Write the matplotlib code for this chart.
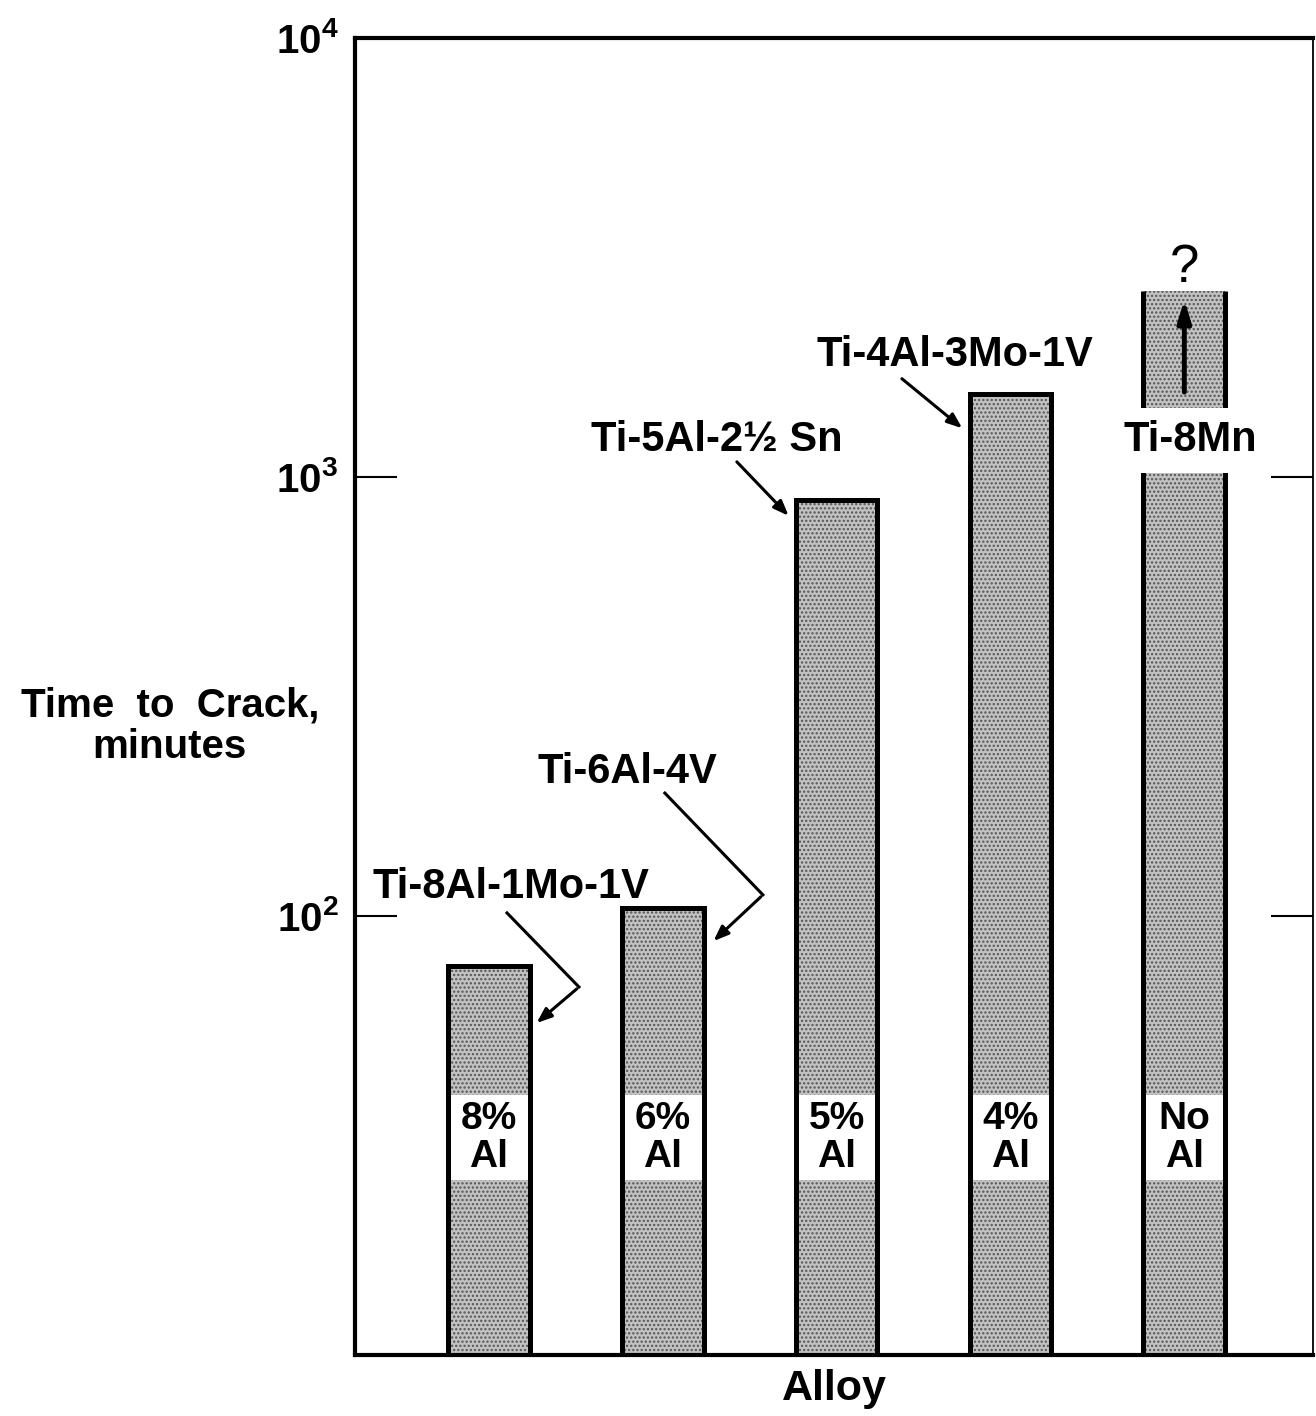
#!/usr/bin/env python3
# Time to crack for five titanium alloys (log scale bar chart)

import numpy as np
import matplotlib
matplotlib.use("Agg")
import matplotlib.pyplot as plt
from matplotlib.ticker import NullLocator, FixedLocator, FixedFormatter

plt.rcParams['font.family'] = ['Liberation Sans', 'DejaVu Sans']
plt.rcParams['font.weight'] = 'bold'
plt.rcParams['mathtext.fontset'] = 'custom'
plt.rcParams['mathtext.rm'] = 'Liberation Sans:bold'
plt.rcParams['mathtext.default'] = 'rm'
plt.rcParams['hatch.linewidth'] = 1.1

# ---- data ---------------------------------------------------------
alloys    = ['Ti-8Al-1Mo-1V', 'Ti-6Al-4V', 'Ti-5Al-2½ Sn', 'Ti-4Al-3Mo-1V', 'Ti-8Mn']
al_labels = ['8%\nAl', '6%\nAl', '5%\nAl', '4%\nAl', 'No\nAl']
minutes   = [77, 104, 887, 1545, 2655]
open_top  = [False, False, False, False, True]   # Ti-8Mn: still rising ("?")

yticks      = [100, 1000, 10000]
ytick_names = ['10$^2$', '10$^3$', '10$^4$']

band_lo, band_hi = 25.0, 39.1     # white band that carries the %Al text
x = np.arange(len(alloys))
w = 0.47

fig = plt.figure(figsize=(13.16, 14.16), dpi=100, facecolor='white')
ax = fig.add_axes([0.2698, 0.0431, 0.7279, 0.9301])

# bars: stippled fill, white band, outline
ax.bar(x, np.array(minutes) - 10, bottom=10, width=w, facecolor='#c2c2c2',
       hatch='....', edgecolor='#555555', linewidth=0, zorder=1)
ax.bar(x, band_hi - band_lo, bottom=band_lo, width=w, color='white',
       edgecolor='none', zorder=2)
for i in range(len(alloys)):
    if open_top[i]:
        ax.vlines([x[i] - w/2, x[i] + w/2], 10, minutes[i], color='black',
                  lw=3.6, zorder=3)
    else:
        ax.bar(x[i], minutes[i] - 10, bottom=10, width=w, fill=False,
               edgecolor='black', lw=3.6, zorder=3)
    ax.text(x[i], np.sqrt(band_lo*band_hi), al_labels[i], ha='center',
            va='center', fontsize=28, linespacing=1.08, zorder=4)

# alloy names with pointer arrows
lab_kw = dict(ha='center', va='center', fontsize=30, zorder=5)
arr_kw = dict(arrowstyle='-|>,head_length=0.9,head_width=0.35', color='black', lw=2.2)

ax.text(0.127, 116.5, alloys[0], **lab_kw)
ax.plot([0.104, 0.518], [101.6, 68.9], color='black', lw=2.2, zorder=5)
ax.annotate('', xy=(0.262, 56.5), xytext=(0.518, 68.9), arrowprops=arr_kw)

ax.text(0.799, 212.8, alloys[1], **lab_kw)
ax.plot([1.012, 1.576], [190.5, 111.7], color='black', lw=2.2, zorder=5)
ax.annotate('', xy=(1.28, 86.8), xytext=(1.576, 111.7), arrowprops=arr_kw)

ax.text(1.311, 1213, alloys[2], **lab_kw)
ax.annotate('', xy=(1.735, 807), xytext=(1.415, 1094), arrowprops=arr_kw)

ax.text(2.680, 1897, alloys[3], **lab_kw)
ax.annotate('', xy=(2.735, 1279), xytext=(2.363, 1690), arrowprops=arr_kw)

ax.text(x[4] + 0.037, 1213, alloys[4], bbox=dict(facecolor='white',
        edgecolor='none', pad=9), **lab_kw)
ax.annotate('', xy=(x[4], 2570), xytext=(x[4], 1538),
            arrowprops=dict(arrowstyle='-|>,head_length=1.3,head_width=0.4',
                            color='black', lw=3.5), zorder=6)
ax.text(x[4], 2993, '?', ha='center', va='center', fontsize=38, fontweight='normal')

# axes
ax.set_yscale('log')
ax.set_ylim(10, 10000)
ax.set_xlim(-0.77, 4.74)
ax.yaxis.set_major_locator(FixedLocator(yticks))
ax.yaxis.set_major_formatter(FixedFormatter(ytick_names))
ax.yaxis.set_minor_locator(NullLocator())
ax.set_xticks([])
ax.tick_params(axis='y', direction='in', length=30, width=1.5, pad=12,
               labelsize=29, right=True)
for side in ['left', 'top', 'bottom']:
    ax.spines[side].set_linewidth(3)
ax.spines['right'].set_linewidth(1.3)

ax.set_xlabel('Alloy', fontsize=31, fontweight='bold', labelpad=10)
fig.text(0.129, 0.487, 'Time  to  Crack,\nminutes', ha='center', va='center',
         fontsize=29, linespacing=1.1)

plt.savefig('out.png', dpi=100)
